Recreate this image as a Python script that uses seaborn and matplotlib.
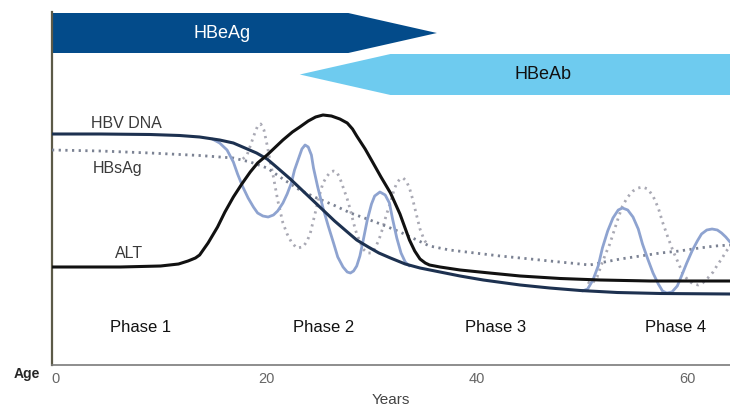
import matplotlib
matplotlib.use("Agg")
import matplotlib.pyplot as plt
import seaborn as sns

hbv_dna_x = [-0.3, 4.3, 9.0, 11.8, 13.7, 15.6, 16.9, 18.0, 19.1, 20.1, 21.1, 22.3, 23.2, 24.3, 25.4,
             26.5, 27.6, 28.6, 29.7, 30.7, 31.8, 33.2, 34.6, 36.5, 38.4, 40.6, 44.1, 46.9, 49.8,
             53.3, 57.4, 64.0]
hbv_dna_y = [231, 231, 230.5, 229.5, 228, 225, 222, 217, 212, 206, 197, 186, 177, 166, 155,
             144, 134, 125, 118, 112, 107, 101, 97, 93, 89, 85, 80, 77, 74.5,
             72.5, 71.5, 71]

alt_x = [-0.3, 6.2, 10.0, 11.7, 12.6, 13.3, 13.7, 14.5, 15.4, 16.1, 16.9, 17.7, 18.5, 19.2, 20.1,
         20.9, 21.6, 22.5, 23.2, 24.0, 24.7, 25.4, 26.2, 27.0, 27.7, 28.2, 28.6, 29.4, 30.1,
         30.9, 31.8, 32.7, 33.6, 34.1, 34.6, 35.1, 35.5, 36.5, 38.4, 41.2, 44.1, 47.9, 51.7,
         56.4, 64.0]
alt_y = [98, 98, 99, 101, 104, 107, 110, 122, 138, 153, 168, 181, 193, 202, 210,
         218, 225, 233, 238, 244, 248, 250, 249, 246, 242, 236, 229, 216, 203,
         188, 172, 151, 125, 114, 106, 102, 100, 98, 95, 92, 89, 86.5, 85,
         84, 84]

hbsag_x = [-0.3, 4.3, 9.0, 13.7, 16.9, 18.5, 20.1, 21.6, 23.2, 24.8, 26.4, 28.0, 29.6, 31.1,
           32.7, 34.3, 35.5, 37.4, 39.8, 42.2, 44.6, 46.9, 49.3, 50.7, 52.1, 53.6, 55.5,
           57.4, 59.2, 61.1, 62.6, 64.0]
hbsag_y = [215, 214, 212, 209.5, 207, 203, 197, 186, 175, 167, 160, 152, 146, 140,
           133, 125, 119, 115, 112, 109, 106.5, 104, 101.5, 100, 103, 106, 109,
           112, 114, 117, 119, 120]

# fluctuating HBV DNA (solid, light blue)
flare1_x = [14.9, 15.6, 16.3, 16.9, 17.3, 17.8, 18.3, 18.8, 19.2, 19.7, 20.2, 20.7, 21.1, 21.6,
            22.0, 22.4, 22.7, 23.1, 23.4, 23.7, 24.0, 24.3, 24.5, 24.9, 25.4, 25.9, 26.4,
            26.8, 27.3, 27.7, 28.0, 28.3, 28.6, 28.9, 29.2, 29.6, 30.0, 30.3, 30.8, 31.3,
            31.7, 32.0, 32.4, 32.8, 33.2, 33.6]
flare1_y = [226, 222, 215, 203, 191, 178, 167, 158, 152, 149, 148, 150, 154, 162,
            171, 182, 195, 207, 216, 220, 218, 210, 197, 178, 157, 139, 122,
            108, 98, 93, 92, 94, 99, 109, 124, 145, 161, 169, 173, 170,
            162, 146, 127, 112, 103, 99]
flare2_x = [50.0, 50.5, 51.0, 51.5, 51.9, 52.4, 52.9, 53.4, 53.8, 54.3, 54.8, 55.3, 55.7, 56.2,
            56.7, 57.2, 57.6, 58.0, 58.5, 59.0, 59.4, 59.9, 60.4, 60.9, 61.3, 61.8, 62.3,
            62.8, 63.2, 63.6, 64.0]
flare2_y = [74, 76, 85, 99, 117, 134, 147, 155, 157, 155, 148, 136, 121, 106,
            92, 81, 74, 72, 73, 79, 89, 102, 114, 124, 131, 135, 136,
            135, 132, 128, 123]

# fluctuating HBsAg (dotted, light grey)
dflare1_x = [17.8, 18.2, 18.5, 18.9, 19.2, 19.5, 19.8, 20.1, 20.4, 20.7, 21.1, 21.6, 22.0, 22.4,
             22.9, 23.5, 23.9, 24.2, 24.5, 24.8, 25.1, 25.4, 25.8, 26.1, 26.4, 26.7, 27.0,
             27.3, 27.7, 28.0, 28.3, 28.6, 29.2, 29.6, 30.0, 30.3, 30.7, 31.1, 31.4, 31.8,
             32.1, 32.4, 32.7, 33.0, 33.3, 33.6, 33.9, 34.2, 34.6, 35.0, 35.4]
dflare1_y = [206, 210, 219, 231, 239, 241, 235, 220, 203, 188, 165, 142, 131, 123,
             117, 118, 124, 132, 145, 158, 171, 182, 189, 193, 194, 193, 187,
             178, 166, 155, 142, 131, 116, 112, 112, 116, 125, 138, 150, 162,
             174, 182, 186, 187, 184, 177, 166, 153, 136, 125, 119]
dflare2_x = [50.5, 50.9, 51.4, 51.8, 52.2, 52.6, 53.0, 53.4, 53.8, 54.3, 54.8, 55.3, 55.7, 56.2,
             56.7, 57.2, 57.6, 58.1, 58.6, 59.1, 59.5, 60.0, 60.5, 61.0, 61.4, 61.9, 62.4,
             62.8, 63.2, 63.6, 64.0]
dflare2_y = [83, 81, 88, 100, 111, 121, 134, 147, 159, 168, 174, 177, 178, 176,
             169, 157, 143, 128, 114, 102, 92, 85, 81, 80, 82, 87, 93,
             100, 106, 113, 119]

# serology bars: start, shoulder, tip (years)
hbeag_years = [-0.3, 27.8, 36.2]
hbeab_years = [23.2, 31.8, 64.0]

phases = ["Phase 1", "Phase 2", "Phase 3", "Phase 4"]
phase_mid = [8.1, 25.5, 41.8, 58.8]
xticks = [0, 20, 40, 60]

sns.set_style("white")
plt.rcParams["font.family"] = ["Liberation Sans", "DejaVu Sans"]

fig = plt.figure(figsize=(7.3, 4.07), dpi=100)
ax = fig.add_axes([52 / 730, 42 / 407, 678 / 730, 353 / 407])

# bars
s, sh, tip = hbeag_years
ax.fill([s, sh, tip, sh, s], [352, 352, 332, 312, 312], color="#034b8a", lw=0, zorder=1)
ax.text(15.8, 332, "HBeAg", color="white", fontsize=13, ha="center", va="center")
t, sh2, e = hbeab_years
ax.fill([t, sh2, e, e, sh2], [290.5, 311, 311, 270, 270], color="#6ecbef", lw=0, zorder=1)
ax.text(46.3, 290.5, "HBeAb", color="#111111", fontsize=13, ha="center", va="center")

dot = (0, (0.8, 1.6))
sns.lineplot(x=dflare1_x, y=dflare1_y, ax=ax, color="#a9a9b4", lw=2, linestyle=dot, sort=False, zorder=2)
sns.lineplot(x=dflare2_x, y=dflare2_y, ax=ax, color="#a9a9b4", lw=2, linestyle=dot, sort=False, zorder=2)
sns.lineplot(x=hbsag_x, y=hbsag_y, ax=ax, color="#7b8293", lw=2, linestyle=dot, sort=False, zorder=3)
sns.lineplot(x=flare1_x, y=flare1_y, ax=ax, color="#8ea3d0", lw=2, sort=False, zorder=4)
sns.lineplot(x=flare2_x, y=flare2_y, ax=ax, color="#8ea3d0", lw=2, sort=False, zorder=4)
sns.lineplot(x=hbv_dna_x, y=hbv_dna_y, ax=ax, color="#1d3150", lw=2.2, sort=False, zorder=5)
sns.lineplot(x=alt_x, y=alt_y, ax=ax, color="#111111", lw=2.2, sort=False, zorder=6)

ax.text(6.8, 242, "HBV DNA", color="#3a3a3a", fontsize=11.5, ha="center", va="center")
ax.text(5.9, 197, "HBsAg", color="#3a3a3a", fontsize=11.5, ha="center", va="center")
ax.text(7.0, 112, "ALT", color="#3a3a3a", fontsize=11.5, ha="center", va="center")

for name, xm in zip(phases, phase_mid):
    ax.text(xm, 38, name, color="#111111", fontsize=12, ha="center", va="center")

ax.set_xlim(-0.3, 64.0)
ax.set_ylim(0, 353)
ax.set_yticks([])
ax.set_xticks(xticks)
ax.tick_params(axis="x", length=0, pad=5, labelsize=10.5, labelcolor="#666666")
ax.set_xlabel("Years", fontsize=11, color="#444444", labelpad=5)
for side in ["top", "right"]:
    ax.spines[side].set_visible(False)
ax.spines["left"].set_color("#5c5a48")
ax.spines["left"].set_linewidth(1.6)
ax.spines["bottom"].set_color("#7a7a7a")
ax.spines["bottom"].set_linewidth(1.2)

fig.text(27 / 730, 1 - 374 / 407, "Age", fontsize=10, fontweight="bold", ha="center", va="center")

fig.savefig("out.png", dpi=100)
